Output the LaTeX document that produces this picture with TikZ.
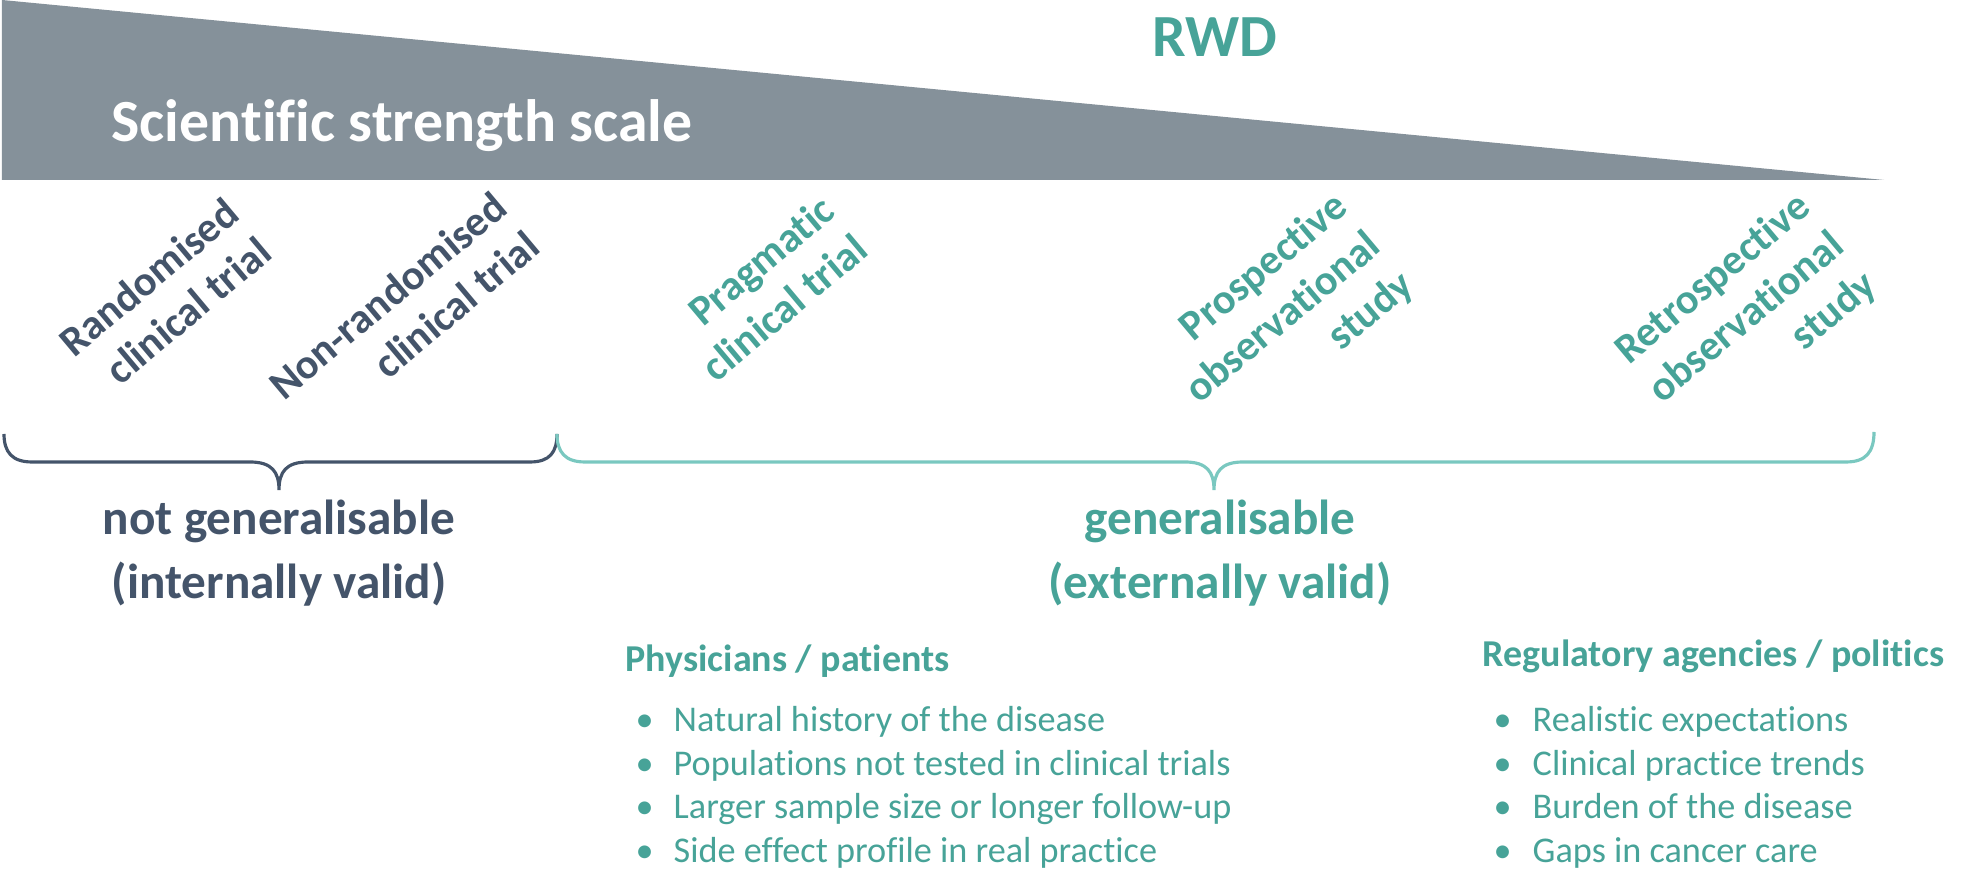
\documentclass[tikz,border=0pt]{standalone}
\usepackage{fontspec}
\setmainfont{Carlito}[Ligatures={NoCommon}]
\definecolor{scl}{RGB}{133, 145, 154}
\definecolor{ins}{RGB}{68, 84, 106}
\definecolor{ext}{RGB}{71, 163, 152}
\definecolor{brc}{RGB}{122, 200, 192}

\begin{document}
\begin{tikzpicture}[x=0.01cm, y=-0.01cm,
    study/.style={rotate=40, anchor=east, align=right, inner sep=0pt, font=\fontsize{12}{14.5}\selectfont\bfseries},
    verdict/.style={align=center, inner sep=0pt, font=\fontsize{14}{18}\selectfont\bfseries},
    group/.style={anchor=west, inner sep=0pt, text height=0.7em, text depth=0.2em, font=\fontsize{10.8}{13}\selectfont\bfseries},
    item/.style={anchor=west, inner sep=0pt, text height=0.7em, text depth=0.2em, font=\fontsize{10.3}{12}\selectfont}]
            \useasboundingbox (0, 0) rectangle (1972, 874);
            \fill[scl] (2, 0) -- (1884, 180) -- (2, 180) -- cycle;
            \node[anchor=base west, inner sep=0pt, font=\fontsize{17}{20}\selectfont\bfseries] (scale) at (111, 142) {\color{white}Scientific strength scale};
            \node[anchor=base, inner sep=0pt, font=\fontsize{17}{20}\selectfont\bfseries] (rwd) at (1215, 57) {\color{ext}RWD};
            \node[study] (rct) at (249, 226) {\color{ins}Randomised\\\color{ins}clinical trial};
            \node[study] (nrct) at (517, 220) {\color{ins}Non-randomised\\\color{ins}clinical trial};
            \node[study] (pct) at (845, 223) {\color{ext}Pragmatic\\\color{ext}clinical trial};
            \node[study] (pos) at (1376, 241) {\color{ext}Prospective\\\color{ext}observational\\\color{ext}study};
            \node[study] (ros) at (1839, 241) {\color{ext}Retrospective\\\color{ext}observational\\\color{ext}study};
            \draw[color=ins, line width=0.9pt] (4, 434) .. controls (4, 452) and (12, 462) .. (32, 462) -- (250, 462) .. controls (272, 462) and (279, 472) .. (279, 490) .. controls (279, 472) and (286, 462) .. (308, 462) -- (530, 462) .. controls (550, 462) and (557, 452) .. (557, 434);
            \draw[color=brc, line width=0.9pt] (557, 434) .. controls (557, 452) and (565, 462) .. (585, 462) -- (1185, 462) .. controls (1207, 462) and (1214, 472) .. (1214, 490) .. controls (1214, 472) and (1221, 462) .. (1243, 462) -- (1846, 462) .. controls (1866, 462) and (1874, 452) .. (1874, 432);
            \node[verdict] (notgen) at (279, 553) {\color{ins}not generalisable\\\color{ins}(internally valid)};
            \node[verdict] (gen) at (1220, 553) {\color{ext}generalisable\\\color{ext}(externally valid)};
            \node[group] (phys) at (625, 663) {\color{ext}Physicians / patients};
            \node[group] (regu) at (1482, 658) {\color{ext}Regulatory agencies / politics};
            \foreach \txt [count=\i] in {Natural history of the disease, Populations not tested in clinical trials, Larger sample size or longer follow-up, Side effect profile in real practice}{
                \node[item] (pb\i) at (635, {679.5+43.5*\i}) {\color{ext}\textbullet};
                \node[item] (pt\i) at (673, {679.5+43.5*\i}) {\color{ext}\txt};
            }
            \foreach \txt [count=\i] in {Realistic expectations, Clinical practice trends, Burden of the disease, Gaps in cancer care}{
                \node[item] (rb\i) at (1493, {679.5+43.5*\i}) {\color{ext}\textbullet};
                \node[item] (rt\i) at (1532, {679.5+43.5*\i}) {\color{ext}\txt};
            }
        \end{tikzpicture}
\end{document}
